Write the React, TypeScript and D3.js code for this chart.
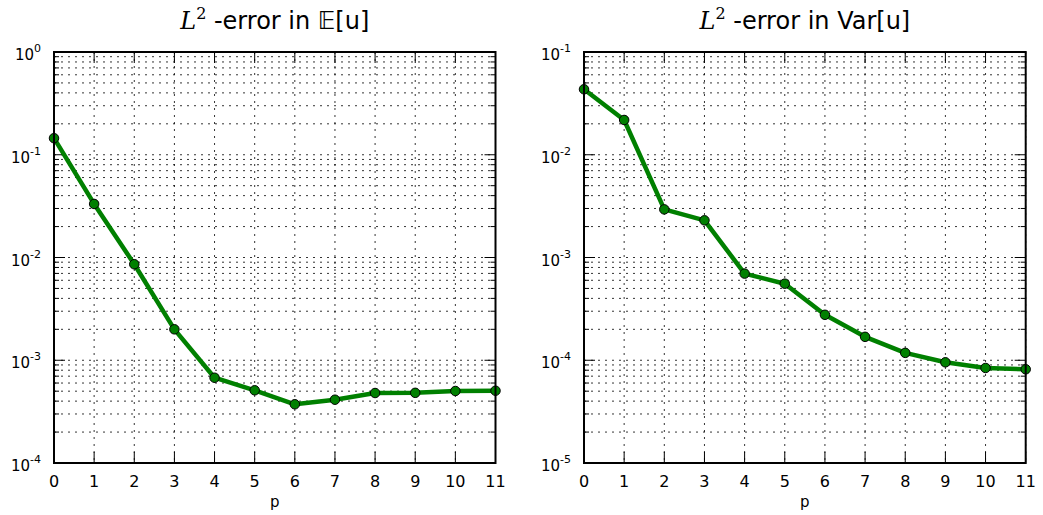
import React, { useEffect, useRef } from 'react';
import * as d3 from 'd3';

const orders = [0, 1, 2, 3, 4, 5, 6, 7, 8, 9, 10, 11];
const meanError = [0.145, 0.0332, 0.0086, 0.002, 0.000676, 0.00051, 0.000373, 0.000413, 0.00048, 0.000482, 0.000502, 0.000505];
const varError = [0.0434, 0.0218, 0.00294, 0.0023, 0.000697, 0.000556, 0.000277, 0.000169, 0.000118, 0.0000955, 0.0000841, 0.0000817];

const panels = [
  { title: '𝔼[u]', series: meanError, minExp: -4, maxExp: 0, left: 54, right: 495.5 },
  { title: 'Var[u]', series: varError, minExp: -5, maxExp: -1, left: 584, right: 1025.7 },
];

const W = 1043;
const H = 515;
const TOP = 52;
const BOTTOM = 463;
const FONT = 'DejaVu Sans, sans-serif';

const App = () => {
  const svgRef = useRef<SVGSVGElement>(null);

  useEffect(() => {
    const svg = d3.select(svgRef.current);
    svg.selectAll('*').remove();

    panels.forEach(panel => {
      const x = d3.scaleLinear().domain([0, 11]).range([panel.left, panel.right]);
      const y = d3.scaleLog()
        .domain([Math.pow(10, panel.minExp), Math.pow(10, panel.maxExp)])
        .range([BOTTOM, TOP]);

      const g = svg.append('g');

      // log ticks: majors at decades, minors at 2..9
      const majors = d3.range(panel.minExp, panel.maxExp + 1).map(e => Math.pow(10, e));
      const minors: number[] = [];
      d3.range(panel.minExp, panel.maxExp).forEach(e => {
        d3.range(2, 10).forEach(m => minors.push(m * Math.pow(10, e)));
      });

      // horizontal grid
      g.selectAll('line.hgrid')
        .data([...majors, ...minors])
        .join('line')
        .attr('x1', panel.left)
        .attr('x2', panel.right)
        .attr('y1', d => y(d))
        .attr('y2', d => y(d))
        .attr('stroke', '#000')
        .attr('stroke-width', 0.8)
        .attr('stroke-dasharray', '2,5');

      // vertical grid
      g.selectAll('line.vgrid')
        .data(orders)
        .join('line')
        .attr('x1', d => x(d))
        .attr('x2', d => x(d))
        .attr('y1', TOP)
        .attr('y2', BOTTOM)
        .attr('stroke', '#000')
        .attr('stroke-width', 0.8)
        .attr('stroke-dasharray', '2,5');

      // x ticks, inward on bottom and top
      orders.forEach(d => {
        g.append('line').attr('x1', x(d)).attr('x2', x(d)).attr('y1', BOTTOM).attr('y2', BOTTOM - 11)
          .attr('stroke', '#000').attr('stroke-width', 1);
        g.append('line').attr('x1', x(d)).attr('x2', x(d)).attr('y1', TOP).attr('y2', TOP + 11)
          .attr('stroke', '#000').attr('stroke-width', 1);
        g.append('text')
          .attr('x', x(d))
          .attr('y', 487)
          .attr('text-anchor', 'middle')
          .style('font-family', FONT)
          .style('font-size', '16px')
          .text(d);
      });

      // y ticks, inward on left and right
      majors.forEach(d => {
        g.append('line').attr('x1', panel.left).attr('x2', panel.left + 11).attr('y1', y(d)).attr('y2', y(d))
          .attr('stroke', '#000').attr('stroke-width', 1);
        g.append('line').attr('x1', panel.right).attr('x2', panel.right - 11).attr('y1', y(d)).attr('y2', y(d))
          .attr('stroke', '#000').attr('stroke-width', 1);
        const exp = Math.round(Math.log10(d));
        const t = g.append('text')
          .attr('x', panel.left - 13)
          .attr('y', y(d) + 8)
          .attr('text-anchor', 'end')
          .style('font-family', FONT)
          .style('font-size', '15px');
        t.append('tspan').text('10');
        t.append('tspan').attr('dy', -8).style('font-size', '11px').text(exp);
      });
      minors.forEach(d => {
        g.append('line').attr('x1', panel.left).attr('x2', panel.left + 5).attr('y1', y(d)).attr('y2', y(d))
          .attr('stroke', '#000').attr('stroke-width', 1);
        g.append('line').attr('x1', panel.right).attr('x2', panel.right - 5).attr('y1', y(d)).attr('y2', y(d))
          .attr('stroke', '#000').attr('stroke-width', 1);
      });

      // data line
      const line = d3.line<number>()
        .x((d, i) => x(orders[i]))
        .y(d => y(d));

      g.append('path')
        .datum(panel.series)
        .attr('d', line)
        .attr('fill', 'none')
        .attr('stroke', '#008000')
        .attr('stroke-width', 4.5)
        .attr('stroke-linejoin', 'round');

      g.selectAll('circle')
        .data(panel.series)
        .join('circle')
        .attr('cx', (d, i) => x(orders[i]))
        .attr('cy', d => y(d))
        .attr('r', 4.75)
        .attr('fill', '#008000')
        .attr('stroke', '#000')
        .attr('stroke-width', 1);

      // frame
      g.append('rect')
        .attr('x', panel.left)
        .attr('y', TOP)
        .attr('width', panel.right - panel.left)
        .attr('height', BOTTOM - TOP)
        .attr('fill', 'none')
        .attr('stroke', '#000')
        .attr('stroke-width', 2);

      const cx = (panel.left + panel.right) / 2;

      // title
      const title = g.append('text')
        .attr('x', cx)
        .attr('y', 29)
        .attr('text-anchor', 'middle')
        .style('font-family', FONT)
        .style('font-size', '24px');
      title.append('tspan')
        .style('font-family', 'DejaVu Serif, serif')
        .style('font-style', 'italic')
        .text('L');
      title.append('tspan').attr('dy', -10).style('font-size', '16px')
        .style('font-family', 'DejaVu Serif, serif').text('2');
      title.append('tspan').attr('dy', 10).text(' -error in ' + panel.title);

      // x label
      g.append('text')
        .attr('x', cx)
        .attr('y', 507)
        .attr('text-anchor', 'middle')
        .style('font-family', FONT)
        .style('font-size', '15px')
        .text('p');
    });
  }, []);

  return (
    <svg
      ref={svgRef}
      width={W}
      height={H}
      style={{ position: 'absolute', left: 0, top: 0, background: '#fff' }}
    />
  );
};

export default App;
